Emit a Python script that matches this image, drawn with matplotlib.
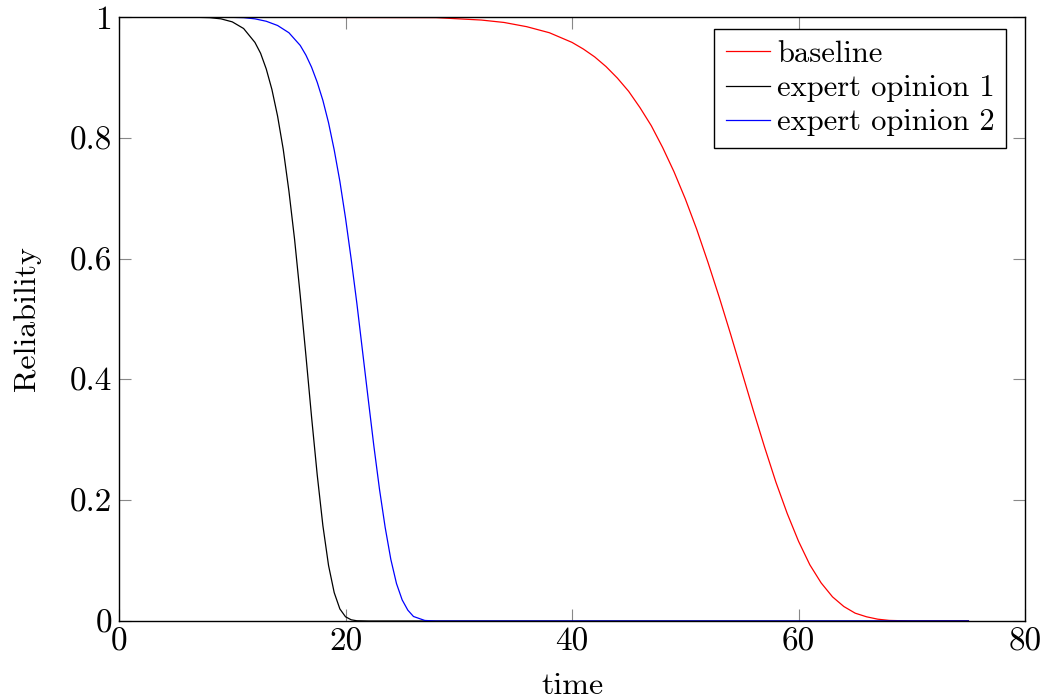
import matplotlib
matplotlib.use("Agg")
import matplotlib.pyplot as plt

# Reliability curves, values
baseline_t = [0, 28, 30, 32, 34, 36, 38, 40, 41, 42, 43, 44, 45, 46, 47, 48, 49, 50,
              51, 52, 53, 54, 55, 56, 57, 58, 59, 60, 61, 62, 63, 64, 65, 66, 67, 68, 70, 75]
baseline_r = [1.0, 0.999, 0.997, 0.995, 0.991, 0.984, 0.974, 0.958, 0.947, 0.934, 0.918,
              0.899, 0.877, 0.850, 0.820, 0.784, 0.744, 0.699, 0.649, 0.594, 0.536, 0.475,
              0.412, 0.349, 0.288, 0.230, 0.178, 0.132, 0.093, 0.063, 0.040, 0.024, 0.013,
              0.007, 0.003, 0.001, 0.0, 0.0]

expert1_t = [0, 7, 8, 9, 10, 11, 12, 12.5, 13, 13.5, 14, 14.5, 15, 15.5, 16, 16.5, 17,
             17.5, 18, 18.5, 19, 19.5, 20, 20.5, 21, 22, 75]
expert1_r = [1.0, 0.9995, 0.999, 0.997, 0.992, 0.981, 0.958, 0.940, 0.914, 0.880, 0.836,
             0.781, 0.712, 0.632, 0.539, 0.440, 0.338, 0.242, 0.158, 0.092, 0.047, 0.020,
             0.007, 0.002, 0.0004, 0.0, 0.0]

expert2_t = [0, 10, 11, 12, 13, 14, 15, 16, 16.5, 17, 17.5, 18, 18.5, 19, 19.5, 20,
             20.5, 21, 21.5, 22, 22.5, 23, 23.5, 24, 24.5, 25, 25.5, 26, 27, 28, 75]
expert2_r = [1.0, 0.9995, 0.999, 0.997, 0.993, 0.986, 0.974, 0.953, 0.937, 0.917, 0.892,
             0.862, 0.825, 0.780, 0.728, 0.667, 0.599, 0.526, 0.447, 0.368, 0.290, 0.218,
             0.155, 0.102, 0.062, 0.035, 0.018, 0.0075, 0.0009, 0.0, 0.0]

plt.rcParams["font.family"] = "cmr10"
plt.rcParams["mathtext.fontset"] = "cm"
plt.rcParams["axes.formatter.use_mathtext"] = True

fig = plt.figure(figsize=(10.45, 6.98), dpi=100)
ax = fig.add_axes([0.1139, 0.1103, 0.8670, 0.8653])

ax.plot(baseline_t, baseline_r, color="red", lw=0.9, label="baseline")
ax.plot(expert1_t, expert1_r, color="black", lw=0.9, label="expert opinion 1")
ax.plot(expert2_t, expert2_r, color="blue", lw=0.9, label="expert opinion 2")

ax.set_xlim(0, 80)
ax.set_ylim(0, 1)
ax.set_xticks([0, 20, 40, 60, 80])
ax.set_xticklabels(["0", "20", "40", "60", "80"])
ax.set_yticks([0, 0.2, 0.4, 0.6, 0.8, 1.0])
ax.set_yticklabels(["0", "0.2", "0.4", "0.6", "0.8", "1"])

ax.tick_params(direction="in", length=8.5, width=0.8, color="#888888",
               top=True, right=True, labelsize=24, pad=5)
for s in ax.spines.values():
    s.set_linewidth(1.0)

ax.set_xlabel("time", fontsize=23, labelpad=11)
ax.set_ylabel("Reliability", fontsize=23, labelpad=21)

leg = ax.legend(loc="upper right", fontsize=22, frameon=True, fancybox=False,
                edgecolor="black", framealpha=1, handlelength=1.45, handletextpad=0.22,
                labelspacing=0.22, borderpad=0.38, borderaxespad=0.0,
                bbox_to_anchor=(0.979, 0.980))
leg.get_frame().set_linewidth(1.0)

fig.savefig("out.png", dpi=100)
